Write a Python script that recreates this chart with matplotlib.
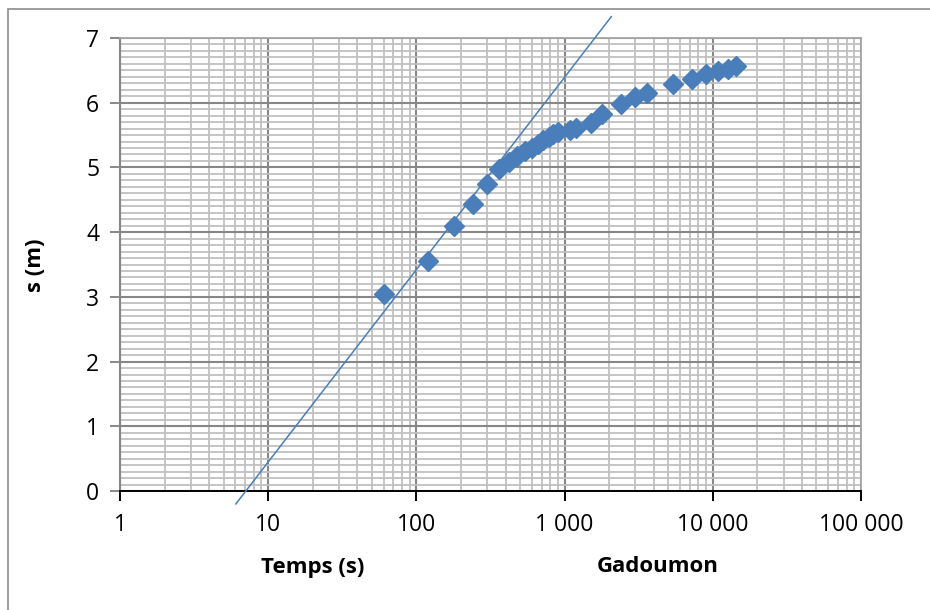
import matplotlib
matplotlib.use("Agg")
import matplotlib.pyplot as plt
from matplotlib.patches import Rectangle
from matplotlib.ticker import LogLocator, NullFormatter, MultipleLocator

# Data
temps = [60, 120, 180, 240, 300, 360, 420, 480, 540, 600, 660, 720, 780, 840,
         900, 1080, 1200, 1500, 1800, 2400, 3000, 3600, 5400, 7200, 9000,
         10800, 12600, 14400]
s_m = [3.05, 3.56, 4.09, 4.44, 4.75, 4.97, 5.08, 5.17, 5.25, 5.30, 5.36, 5.42,
       5.47, 5.51, 5.54, 5.58, 5.61, 5.69, 5.83, 5.98, 6.09, 6.15, 6.29, 6.37,
       6.45, 6.49, 6.52, 6.57]
fit_t = [6.05, 2066]
fit_s = [-0.2, 7.33]
x_ticks = [1, 10, 100, 1000, 10000, 100000]
x_labels = ["1", "10", "100", "1 000", "10 000", "100 000"]
y_ticks = [0, 1, 2, 3, 4, 5, 6, 7]

plt.rcParams['font.family'] = ['Open Sans', 'DejaVu Sans']
blue = '#4a7ebb'

fig = plt.figure(figsize=(9.3, 6.1), dpi=100)
ax = fig.add_axes([120/930, (610-491)/610, (861-120)/930, (491-38)/610])

ax.set_xscale('log')
ax.set_xlim(1, 100000)
ax.set_ylim(0, 7)

ax.xaxis.set_minor_locator(LogLocator(base=10, subs=range(2, 10), numticks=20))
ax.xaxis.set_minor_formatter(NullFormatter())
ax.set_xticks(x_ticks)
ax.set_xticklabels(x_labels)
ax.set_yticks(y_ticks)
ax.yaxis.set_minor_locator(MultipleLocator(0.1))

ax.grid(which='major', color='#878787', linewidth=1.5, zorder=0)
ax.grid(which='minor', color='#c0c0c0', linewidth=1.3, zorder=0)
ax.set_axisbelow(True)

for side in ['top', 'right']:
    ax.spines[side].set_color('#a6a6a6')
    ax.spines[side].set_linewidth(1.3)
ax.spines['left'].set_color('#878787')
ax.spines['left'].set_linewidth(1.5)
ax.spines['bottom'].set_color('black')
ax.spines['bottom'].set_linewidth(1.4)

ax.tick_params(axis='x', which='major', direction='out', length=7, width=1.4,
               color='black', labelsize=16.5, pad=9)
ax.tick_params(axis='y', which='major', direction='out', length=7, width=1.4,
               color='#878787', labelsize=16.5, pad=8)
ax.tick_params(which='minor', length=0)

ax.plot(temps, s_m, linestyle='none', marker='D', markersize=10.5,
        color=blue, zorder=3, clip_on=False)
ax.plot(fit_t, fit_s, color=blue, linewidth=1.1, zorder=4, clip_on=False)

fig.text(313/930, 1 - 567/610, "Temps (s)", ha='center', va='center',
         fontsize=16, fontweight='bold')
fig.text(658/930, 1 - 567/610, "Gadoumon", ha='center', va='center',
         fontsize=16, fontweight='bold')
fig.text(35/930, 1 - 265/610, "s (m)", ha='center', va='center',
         fontsize=16, fontweight='bold', rotation=90)

fig.patches.append(Rectangle((8/930, -0.1), 1.2, 1 - 9/610 + 0.1,
                             transform=fig.transFigure, fill=False,
                             edgecolor='#8c8c8c', linewidth=1.2))

fig.savefig("out.png", dpi=100)
